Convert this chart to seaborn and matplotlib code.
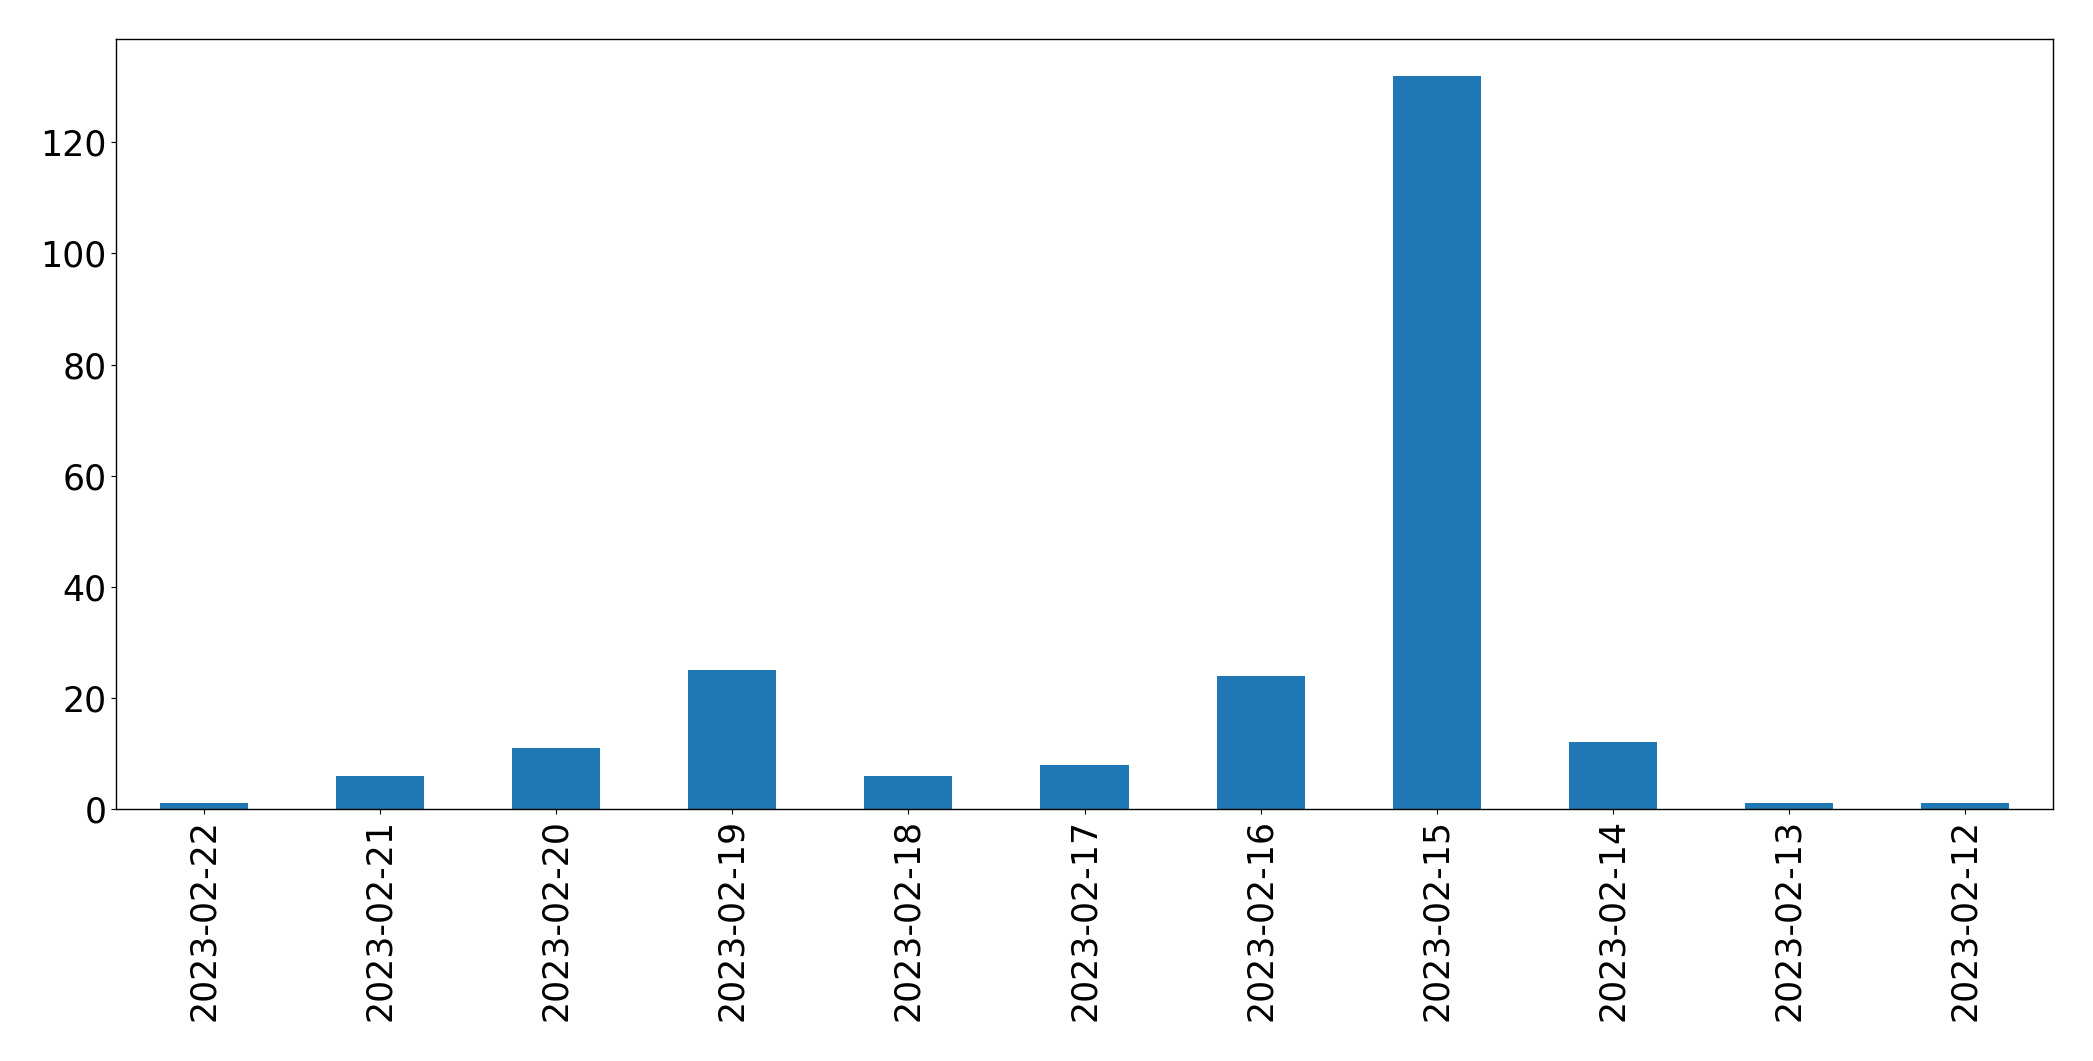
import matplotlib
matplotlib.use("Agg")
import matplotlib.pyplot as plt
import seaborn as sns
import pandas as pd

dates = ["2023-02-22", "2023-02-21", "2023-02-20", "2023-02-19", "2023-02-18",
         "2023-02-17", "2023-02-16", "2023-02-15", "2023-02-14", "2023-02-13",
         "2023-02-12"]
counts = [1, 6, 11, 25, 6, 8, 24, 132, 12, 1, 1]

df = pd.DataFrame({"date": dates, "count": counts})

fig, ax = plt.subplots(figsize=(20.93, 10.61), dpi=100)
fig.subplots_adjust(left=116/2093, right=2053/2093, top=1-39/1061, bottom=1-809/1061)

sns.barplot(data=df, x="date", y="count", order=dates, color="#1f77b4",
            saturation=1, width=0.5, linewidth=0, ax=ax)

ax.set_xlim(-0.5, len(dates) - 0.5)
ax.set_ylim(0, max(counts) * 1.05)
ax.set_xlabel("")
ax.set_ylabel("")
ax.tick_params(axis="x", labelrotation=90, labelsize=25)
ax.tick_params(axis="y", labelsize=25)
for s in ax.spines.values():
    s.set_visible(True)
    s.set_linewidth(1.0)

fig.savefig("out.png", dpi=100)
